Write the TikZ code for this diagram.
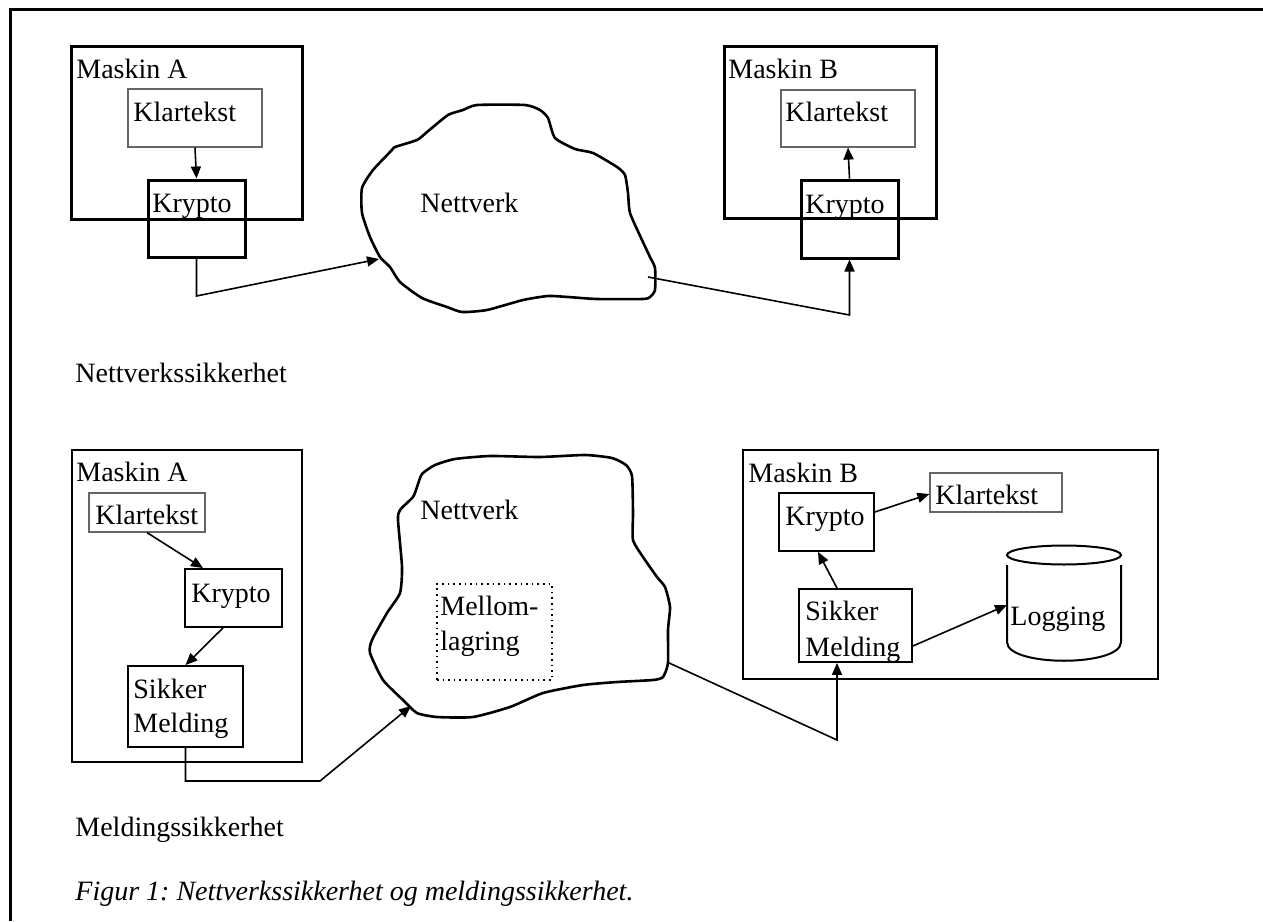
\documentclass[tikz,border=0pt]{standalone}
\usepackage{fontspec}
\setmainfont{Liberation Serif}
\usetikzlibrary{arrows.meta,fit}
\frenchspacing
\newcommand{\lbl}{\fontsize{14}{17}\selectfont}
\tikzset{
  frame/.style={line width=1.5pt},
  box/.style={draw, line width=1.5pt, inner sep=0pt},
  lowbox/.style={draw, line width=0.9pt, inner sep=0pt},
  textbox/.style={draw=black!60, line width=0.6pt, inner sep=0pt},
  txt/.style={inner sep=0pt, anchor=base west, font=\lbl},
  conn/.style={line width=0.8pt},
  arr/.style={conn, -{Triangle[length=6pt,width=5pt]}},
  cloudline/.style={line width=1.3pt, line join=round},
}
\begin{document}
\begin{tikzpicture}[x=0.5pt,y=-0.5pt]
        \useasboundingbox (0,0) rectangle (1263,921);

        % Frame
        \draw[frame] (10,921) -- (10,9) -- (1263,9);

        % Nettverkssikkerhet: Maskin A
        \node[box, fit={(71,46) (302,219)}] (maskA) {};
        \node[txt] (maskAtxt) at (76,78) {Maskin A};
        \node[textbox, fit={(128,89) (262,147)}] (klarA) {};
        \node[txt] (klarAtxt) at (133,121) {Klartekst};
        \node[box, fit={(148,180) (245,257)}] (kryA) {};
        \node[txt] (kryAtxt) at (152,212) {Krypto};
        \draw[arr] (klarA.south) -- (kryA.north);

        % Nettverkssikkerhet: Maskin B
        \node[box, fit={(724,46) (936,218)}] (maskB) {};
        \node[txt] (maskBtxt) at (728,78) {Maskin B};
        \node[textbox, fit={(781,90) (915,147)}] (klarB) {};
        \node[txt] (klarBtxt) at (785,121) {Klartekst};
        \node[box, fit={(801,180) (898,258)}] (kryB) {};
        \node[txt] (kryBtxt) at (805,213) {Krypto};
        \draw[arr] (kryB.north) -- (klarB.south);

        % Nettverk (top)
        \draw[cloudline] plot[smooth cycle, tension=0.35] coordinates {
          (477,105) (525,105) (540,110) (548,118) (555,138) (575,149) (593,153)
          (617,167) (625,175) (628,193) (630,213) (642,240) (650,257) (655,268)
          (655,290) (650,297) (643,299) (597,299) (568,297) (548,296) (523,300)
          (487,310) (462,312) (447,307) (422,298) (400,282) (390,267) (380,257)
          (370,237) (362,213) (362,188) (373,170) (392,150) (395,147) (417,140)
          (427,132) (448,115) (463,110)};
        \node[txt] (nettA) at (420,212) {Nettverk};
        \coordinate (netAin) at (379,259);
        \coordinate (netAout) at (648,277);
        \draw[arr] (kryA.south) -- (kryA.south |- 0,296) -- (netAin);
        \draw[arr] (netAout) -- (kryB.south |- 0,315) -- (kryB.south);

        \node[txt] (netsik) at (75,382) {Nettverkssikkerhet};

        % Meldingssikkerhet: Maskin A
        \node[lowbox, fit={(72,450) (302,762)}] (maskA2) {};
        \node[txt] (maskA2txt) at (76,481) {Maskin A};
        \node[textbox, fit={(89,493) (205,532)}] (klarA2) {};
        \node[txt] (klarA2txt) at (95,524) {Klartekst};
        \node[lowbox, fit={(185,569) (282,627)}] (kryA2) {};
        \node[txt] (kryA2txt) at (191,602) {Krypto};
        \node[lowbox, fit={(128,666) (243,747)}] (sikA2) {};
        \node[txt] (sikA2txt) at (133,698) {Sikker};
        \node[txt] (melA2txt) at (133,732) {Melding};
        \draw[arr] (klarA2.south) -- (kryA2.north -| 203,0);
        \draw[arr] (kryA2.south -| 223,0) -- (sikA2.north);

        % Nettverk (bottom)
        \draw[cloudline] plot[smooth cycle, tension=0.35] coordinates {
          (417,487) (422,474) (435,465) (455,459) (490,456) (540,457) (585,455)
          (612,458) (626,465) (632,476) (633,513) (633,540) (643,557) (657,577)
          (665,587) (670,607) (668,630) (668,663) (663,677) (653,680) (617,682)
          (583,685) (543,693) (510,707) (473,717) (437,717) (417,713) (403,700)
          (383,680) (370,653) (372,640) (387,613) (400,593) (402,567) (398,520)
          (400,510) (413,497)};
        \node[txt] (nettB) at (420,519) {Nettverk};
        \node[draw, dotted, line width=0.8pt, inner sep=0pt, fit={(437,584) (552,680)}] (mellom) {};
        \node[txt] (mellomtxt) at (440,615) {Mellom-};
        \node[txt] (lagrtxt) at (440,650) {lagring};
        \coordinate (netBin) at (411,706);
        \coordinate (netBout) at (667,662);
        \draw[arr] (sikA2.south) -- (sikA2.south |- 0,781) -- (320,781) -- (netBin);

        % Meldingssikkerhet: Maskin B
        \node[lowbox, fit={(743,450) (1158,679)}] (maskB2) {};
        \node[txt] (maskB2txt) at (748,482) {Maskin B};
        \node[textbox, fit={(930,473) (1062,512)}] (klarB2) {};
        \node[txt] (klarB2txt) at (935,504) {Klartekst};
        \node[lowbox, fit={(779,493) (874,551)}] (kryB2) {};
        \node[txt] (kryB2txt) at (785,525) {Krypto};
        \node[lowbox, fit={(799,589) (912,662)}] (sikB2) {};
        \node[txt] (sikB2txt) at (805,620) {Sikker};
        \begin{scope}
          \clip (799,589) rectangle (912,662);
          \node[txt] (melB2txt) at (805,656) {Melding};
        \end{scope}

        % Logging
        \draw[line width=1pt] (1064,555) ellipse [x radius=57, y radius=9.5];
        \draw[line width=1pt] (1007,565) -- (1007,642)
          .. controls (1007,667) and (1121,667) .. (1121,642) -- (1121,565);
        \node[txt] (logtxt) at (1010,625) {Logging};
        \coordinate (login) at (1007,605);

        \draw[arr] (kryB2.east |- 0,512) -- (klarB2.west |- 0,494);
        \draw[arr] (sikB2.north -| 837,0) -- (kryB2.south -| 818,0);
        \draw[arr] (sikB2.east |- 0,646) -- (login);
        \draw[arr] (netBout) -- (837,740) -- (sikB2.south -| 837,0);

        \node[txt] (meldsik) at (75,836) {Meldingssikkerhet};

        % Caption
        \node[txt, font=\lbl\itshape] (caption) at (75,900) {Figur 1: Nettverkssikkerhet og meldingssikkerhet.};
\end{tikzpicture}
\end{document}
